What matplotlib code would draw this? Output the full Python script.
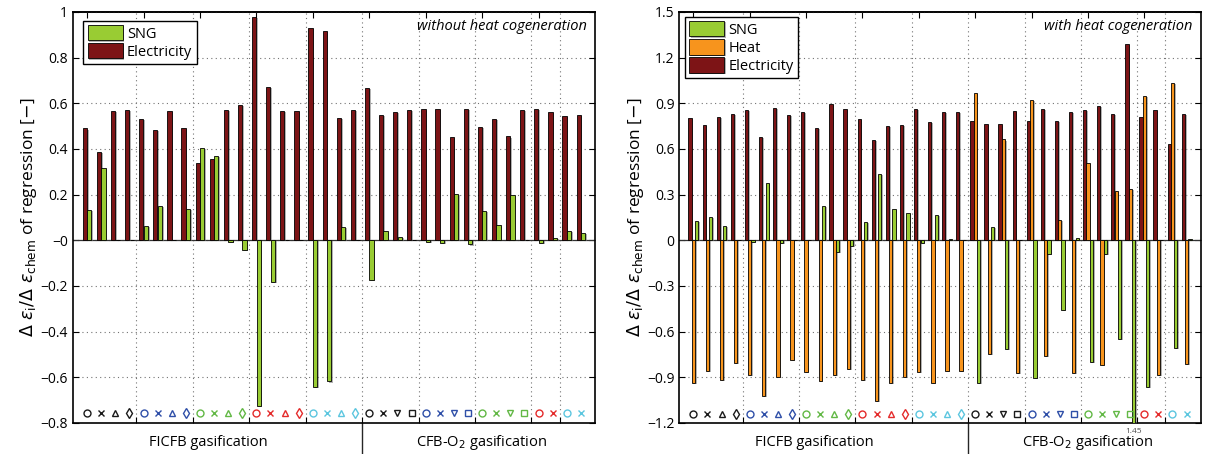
import numpy as np
import matplotlib
matplotlib.use('Agg')
import matplotlib.pyplot as plt
import matplotlib.patheffects as pe
import matplotlib.transforms as mtransforms

plt.rcParams['font.family'] = ['Open Sans', 'DejaVu Sans']
plt.rcParams['mathtext.fontset'] = 'dejavusans'

# Sensitivity of each product to the chemical efficiency (one value per case)
elec_nocog = [0.490, 0.386, 0.567, 0.570, 0.533, 0.483, 0.567, 0.491, 0.338, 0.357,
              0.571, 0.592, 0.979, 0.670, 0.567, 0.567, 0.932, 0.918, 0.535, 0.570,
              0.666, 0.548, 0.563, 0.571, 0.573, 0.574, 0.453, 0.577, 0.496, 0.532,
              0.455, 0.571, 0.574, 0.563, 0.544, 0.550]
sng_nocog = [0.133, 0.318, 0.0, 0.0, 0.063, 0.152, 0.0, 0.137, 0.405, 0.369,
             -0.008, -0.044, -0.726, -0.183, 0.0, 0.0, -0.642, -0.618, 0.057, 0.0,
             -0.172, 0.040, 0.015, 0.0, -0.007, -0.013, 0.203, -0.018, 0.130, 0.069,
             0.200, 0.0, -0.010, 0.012, 0.041, 0.034]

elec_cog = [0.802, 0.756, 0.809, 0.829, 0.855, 0.682, 0.868, 0.822, 0.844, 0.737,
            0.894, 0.861, 0.796, 0.660, 0.752, 0.756, 0.861, 0.776, 0.844, 0.844,
            0.785, 0.763, 0.761, 0.850, 0.785, 0.861, 0.785, 0.844, 0.857, 0.881,
            0.829, 1.290, 0.811, 0.857, 0.632, 0.829]
heat_cog = [-0.939, -0.861, -0.920, -0.806, -0.883, -1.023, -0.896, -0.788, -0.867, -0.926,
            -0.887, -0.845, -0.915, -1.056, -0.935, -0.900, -0.867, -0.935, -0.861, -0.858,
            0.971, -0.749, 0.663, -0.874, 0.922, -0.758, 0.134, -0.872, 0.510, -0.821,
            0.322, 0.335, 0.949, -0.887, 1.032, -0.815]
sng_cog = [0.125, 0.156, 0.097, 0.0, -0.010, 0.376, -0.020, 0.0, 0.0, 0.228,
           -0.074, -0.039, 0.123, 0.435, 0.206, 0.180, -0.015, 0.167, 0.010, 0.0,
           -0.935, 0.086, -0.716, 0.0, -0.904, -0.088, -0.456, 0.013, -0.800, -0.090,
           -0.646, -1.450, -0.964, 0.0, -0.705, 0.010]

# case symbols: colour = biomass/process variant, marker = configuration
c_blk, c_blu, c_grn, c_red, c_cya = '#1a1a1a', '#2f4fa8', '#62b845', '#e42b2b', '#5cc6df'
case_colors = ([c_blk] * 4 + [c_blu] * 4 + [c_grn] * 4 + [c_red] * 4 + [c_cya] * 4 +
               [c_blk] * 4 + [c_blu] * 4 + [c_grn] * 4 + [c_red] * 2 + [c_cya] * 2)
case_markers = (['o', 'x', '^', 'd'] * 5 +
                ['o', 'x', 'v', 's'] * 3 + ['o', 'x'] * 2)
groups = ['FICFB gasification', 'CFB-O$_2$ gasification']

col_sng = '#99cc33'
col_heat = '#f7941d'
col_elec = '#7d1416'

n = len(elec_nocog)
x = np.arange(n)
shadow = [pe.SimplePatchShadow(offset=(1.2, -0.8), shadow_rgbFace='0.45', alpha=0.55), pe.Normal()]
leg_kw = dict(loc='upper left', fontsize=10.5, fancybox=False, edgecolor='k',
              framealpha=1, borderpad=0.3, borderaxespad=0, handlelength=2.4,
              handleheight=1.25, labelspacing=0.1, handletextpad=0.3)


def style_axes(ax, ylim, step, marker_y):
    ax.set_xlim(-1, n)
    ax.set_ylim(*ylim)
    ax.set_yticks(np.round(np.arange(ylim[0], ylim[1] + step / 2, step), 2))
    ax.yaxis.set_major_formatter(matplotlib.ticker.FuncFormatter(
        lambda v, p: ('%g' % v).replace('-', '\u2212')))
    seps = [3.5, 7.5, 11.5, 15.5, 19.5, 23.5, 27.5, 31.5, 33.5]
    ax.set_xticks(seps)
    ax.tick_params(axis='x', direction='in', length=4, labelbottom=False)
    ax.tick_params(axis='y', direction='in', length=4, right=True, labelsize=10)
    ax.grid(True, linestyle=(0, (1, 3)), color='0.45', linewidth=0.8)
    ax.set_axisbelow(True)
    top = ax.secondary_xaxis('top')
    top.set_xticks(np.arange(0, n, 4))
    top.tick_params(direction='in', length=4, labeltop=False)
    for s in ax.spines.values():
        s.set_linewidth(1.2)
    top.spines['top'].set_linewidth(1.2)
    ax.axhline(0, color='0.2', linewidth=0.9, zorder=1)
    for xi, c, m in zip(x, case_colors, case_markers):
        ax.plot(xi, marker_y, marker=m, ms=5, mfc='none', mec=c, mew=1.0,
                linestyle='none', zorder=4, clip_on=False)
    tr = mtransforms.blended_transform_factory(ax.transData, ax.transAxes)
    ax.plot([19.5, 19.5], [0, -0.09], color='0.15', linewidth=1.0,
            transform=tr, clip_on=False)
    ax.text(8.6, -0.048, groups[0], transform=tr, ha='center', va='center', fontsize=10.5)
    ax.text(28.0, -0.048, groups[1], transform=tr, ha='center', va='center', fontsize=10.5)
    ax.set_ylabel(r'$\Delta\ \varepsilon_\mathrm{i}/\Delta\ \varepsilon_\mathrm{chem}$ of regression [$-$]',
                  fontsize=12.5, labelpad=1)


fig = plt.figure(figsize=(12.16, 4.54), dpi=100)
ax1 = fig.add_axes([0.0600, 0.0683, 0.4293, 0.9053])
ax2 = fig.add_axes([0.5586, 0.0683, 0.4288, 0.9053])

# without heat cogeneration
w = 0.3
b_e = ax1.bar(x - 0.16, elec_nocog, w, color=col_elec, edgecolor='k', linewidth=0.6,
              label='Electricity', zorder=3)
b_s = ax1.bar(x + 0.16, sng_nocog, w, color=col_sng, edgecolor='k', linewidth=0.6,
              label='SNG', zorder=3)
for b in list(b_e) + list(b_s):
    b.set_path_effects(shadow)
style_axes(ax1, (-0.8, 1.0), 0.2, -0.756)
leg1 = ax1.legend([b_s, b_e], ['SNG', 'Electricity'],
                  bbox_to_anchor=(0.0197, 0.979), **leg_kw)
leg1.get_frame().set_linewidth(1.0)
ax1.text(0.985, 0.965, 'without heat cogeneration', transform=ax1.transAxes,
         ha='right', va='center', style='italic', fontsize=10.5)

# with heat cogeneration
w = 0.23
b_e = ax2.bar(x - 0.235, elec_cog, w, color=col_elec, edgecolor='k', linewidth=0.6,
              label='Electricity', zorder=3)
b_h = ax2.bar(x, heat_cog, w, color=col_heat, edgecolor='k', linewidth=0.6,
              label='Heat', zorder=3)
b_s = ax2.bar(x + 0.235, sng_cog, w, color=col_sng, edgecolor='k', linewidth=0.6,
              label='SNG', zorder=3)
for b in list(b_e) + list(b_h) + list(b_s):
    b.set_path_effects(shadow)
style_axes(ax2, (-1.2, 1.5), 0.3, -1.141)
leg2 = ax2.legend([b_s, b_h, b_e], ['SNG', 'Heat', 'Electricity'],
                  bbox_to_anchor=(0.011, 0.9886), **leg_kw)
leg2.get_frame().set_linewidth(1.0)
ax2.text(0.985, 0.965, 'with heat cogeneration', transform=ax2.transAxes,
         ha='right', va='center', style='italic', fontsize=10.5)

# the bar running off the bottom gets its value written under the axis
i_min = int(np.argmin(sng_cog))
tr2 = mtransforms.blended_transform_factory(ax2.transData, ax2.transAxes)
ax2.text(x[i_min] + 0.235, -0.012, '%.2f' % abs(sng_cog[i_min]), transform=tr2,
         ha='center', va='top', fontsize=6, color='0.3')

fig.savefig('out.png', dpi=100)
